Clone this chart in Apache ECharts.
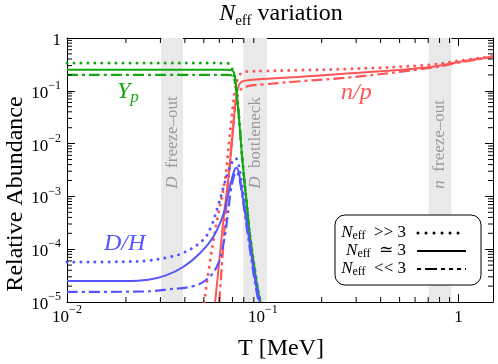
<!DOCTYPE html>
<html><head><meta charset="utf-8">
<script src="https://cdn.jsdelivr.net/npm/echarts@6/dist/echarts.min.js"></script>
<style>html,body{margin:0;padding:0;background:#fff}#c{width:498px;height:364px}</style>
</head><body><div id="c"></div>
<script>
// ---- data (T in MeV, relative abundance) ----
const ypDotted = [[0.01,0.335],[0.04,0.335],[0.064,0.334],[0.0667,0.33],[0.0685,0.30],[0.070,0.25],[0.0715,0.18],[0.073,0.11],[0.0745,0.055],[0.0765,0.019],[0.0786,0.0053],[0.0832,6.2e-4],[0.0863,1.7e-4],[0.0948,1.6e-5],[0.0975,1e-5]];
const ypSolid  = [[0.01,0.25],[0.04,0.25],[0.066,0.25],[0.0685,0.248],[0.0705,0.235],[0.0718,0.20],[0.0728,0.14],[0.0741,0.07],[0.0765,0.018],[0.0786,0.005],[0.0832,6e-4],[0.0863,1.6e-4],[0.0948,1.5e-5],[0.0975,1e-5]];
const ypDashDot= [[0.01,0.20],[0.04,0.20],[0.066,0.20],[0.0685,0.198],[0.0705,0.185],[0.072,0.15],[0.0732,0.11],[0.0745,0.06],[0.0765,0.019],[0.0786,0.0052],[0.0832,6e-4],[0.0863,1.6e-4],[0.0948,1.5e-5],[0.0975,1e-5]];

const npDotted = [[0.0502,1e-5],[0.0545,8e-5],[0.0585,3.6e-4],[0.0643,2.2e-3],[0.0675,0.012],[0.0698,0.038],[0.072,0.10],[0.0745,0.17],[0.0765,0.205],[0.080,0.225],[0.086,0.233],[0.10,0.237],[0.15,0.245],[0.28,0.26],[0.71,0.31],[1.0,0.37],[1.5,0.45]];
const npSolid  = [[0.0571,1e-5],[0.060,6e-5],[0.0629,3.5e-4],[0.0667,2.2e-3],[0.0695,0.010],[0.0715,0.035],[0.0735,0.085],[0.0755,0.128],[0.078,0.148],[0.082,0.156],[0.086,0.16],[0.10,0.167],[0.15,0.183],[0.28,0.215],[0.71,0.28],[1.0,0.35],[1.5,0.44]];
const npDashDot= [[0.060,1e-5],[0.0643,3.6e-4],[0.0675,3e-3],[0.0705,0.02],[0.073,0.06],[0.0755,0.093],[0.079,0.113],[0.083,0.121],[0.086,0.125],[0.10,0.132],[0.15,0.15],[0.28,0.18],[0.71,0.27],[1.0,0.34],[1.5,0.44]];

const dhDotted = [[0.01,5.7e-5],[0.02,5.8e-5],[0.026,6.1e-5],[0.032,6.9e-5],[0.0392,8.5e-5],[0.0496,1.5e-4],[0.0545,2.7e-4],[0.0594,7e-4],[0.063,1.5e-3],[0.0665,2.9e-3],[0.0703,4.7e-3],[0.0725,5.3e-3],[0.075,4.3e-3],[0.0795,1.1e-3],[0.0845,2.4e-4],[0.0895,5.5e-5],[0.094,1.8e-5],[0.0975,1e-5]];
const dhSolid  = [[0.01,2.5e-5],[0.02,2.5e-5],[0.026,2.65e-5],[0.032,3.2e-5],[0.0392,4.6e-5],[0.0479,8.5e-5],[0.0558,1.7e-4],[0.0628,4.5e-4],[0.067,1.2e-3],[0.0705,2.6e-3],[0.0731,3.5e-3],[0.0755,2.8e-3],[0.0795,8.5e-4],[0.0843,2e-4],[0.0893,4.6e-5],[0.0938,1.5e-5],[0.0965,1e-5]];
const dhDashDot= [[0.01,1.55e-5],[0.025,1.58e-5],[0.032,1.72e-5],[0.0442,2.0e-5],[0.0519,2.7e-5],[0.0585,4.8e-5],[0.0628,1.2e-4],[0.066,4e-4],[0.0685,1.2e-3],[0.071,2.3e-3],[0.0731,2.9e-3],[0.0755,2.4e-3],[0.0795,7.5e-4],[0.084,1.8e-4],[0.089,4.2e-5],[0.0935,1.4e-5],[0.0955,1e-5]];

// shaded temperature bands [Tlow, Thigh]
const bands = [[0.0303,0.0391],[0.0794,0.105],[0.703,0.92]];
const bandLabels = ['{i|D}  freeze–out','{i|D}  bottleneck','{i|n}  freeze–out'];

const xMin = 0.01, xMax = 1.5, yMin = 1e-5, yMax = 1;
const xMinorTicks = [], yMinorTicks = [];
for (let d = -2; d <= 0; d++) for (let m = 2; m <= 9; m++) { const v = m*Math.pow(10,d); if (v < xMax) xMinorTicks.push([v, yMin]); }
for (let d = -5; d <= -1; d++) for (let m = 2; m <= 9; m++) yMinorTicks.push([xMin, m*Math.pow(10,d)]);

// ---- styles ----
const FONT = "'Liberation Serif','DejaVu Serif',serif";
const GREEN = '#12a812', RED = '#ff5555', BLUE = '#5555ff';
const DOT = {type:[0.01,7], cap:'round', width:3};
const SOLID = {type:'solid', width:2};
const DASHDOT = {type:[11,4,3,4], width:2.2};

function logLabel(v){
  const e = Math.round(Math.log10(v));
  if (Math.abs(v - Math.pow(10,e)) / v > 1e-6) return '';
  if (e === 0) return '{b|1}';
  return '{b|10}{s|−' + (-e) + '}';
}
const labelRich = {
  b:{fontSize:17, fontFamily:FONT, color:'#000', lineHeight:22, verticalAlign:'bottom'},
  s:{fontSize:12, fontFamily:FONT, color:'#000', lineHeight:12, verticalAlign:'top'}
};

function lineSeries(data, color, ls, z){
  return {type:'line', data:data, xAxisIndex:0, yAxisIndex:0, symbol:'none', showSymbol:false,
    smooth:0.4, z:z, silent:true, animation:false,
    lineStyle:Object.assign({color:color}, ls)};
}

const axisCommon = {
  type:'log', logBase:10, splitLine:{show:false},
  axisLine:{show:true, onZero:false, lineStyle:{color:'#000', width:1}},
  axisTick:{show:true, inside:true, length:8, lineStyle:{color:'#000', width:1}},
};

const chart = echarts.init(document.getElementById('c'), null, {renderer:'canvas'});
const option = {
  animation:false,
  backgroundColor:'#fff',
  grid:{left:67, right:5, top:38, bottom:62, containLabel:false},
  xAxis:[
    Object.assign({}, axisCommon, {position:'bottom', min:xMin, max:xMax,
      axisLabel:{show:true, margin:2, formatter:logLabel, rich:labelRich, showMaxLabel:false}}),
    Object.assign({}, axisCommon, {position:'top', min:xMin, max:xMax, axisLabel:{show:false}})
  ],
  yAxis:[
    Object.assign({}, axisCommon, {position:'left', min:yMin, max:yMax,
      axisLabel:{show:true, margin:6, formatter:logLabel, rich:labelRich}}),
    Object.assign({}, axisCommon, {position:'right', min:yMin, max:yMax, axisLabel:{show:false}})
  ],
  series:[
    {type:'custom', xAxisIndex:0, yAxisIndex:0, z:1, silent:true, clip:false,
      data:bands.map((b,i)=>[b[0], b[1], i]),
      encode:{x:[0,1]},
      renderItem:function(params, api){
        const t1 = api.value(0), t2 = api.value(1), i = api.value(2);
        const p1 = api.coord([t1, yMax]), p2 = api.coord([t2, yMin]);
        const tm = Math.sqrt(t1*t2);
        const pl = api.coord([tm, 1.4e-3]);
        return {type:'group', children:[
          {type:'rect', shape:{x:p1[0], y:p1[1], width:p2[0]-p1[0], height:p2[1]-p1[1]}, style:{fill:'#e9e9e9'}},
          {type:'text', x:pl[0], y:pl[1], rotation:Math.PI/2,
            style:{text:bandLabels[i], fill:'#9a9a9a', fontSize:17, fontFamily:FONT,
              align:'left', verticalAlign:'middle',
              rich:{i:{fontStyle:'italic', fontSize:17, fontFamily:FONT, fill:'#9a9a9a'}}}}
        ]};
      }},
    lineSeries(npDotted, RED, DOT, 3),
    lineSeries(npSolid, RED, SOLID, 3),
    lineSeries(npDashDot, RED, DASHDOT, 3),
    lineSeries(ypDotted, GREEN, DOT, 4),
    lineSeries(ypSolid, GREEN, SOLID, 4),
    lineSeries(ypDashDot, GREEN, DASHDOT, 4),
    lineSeries(dhDotted, BLUE, DOT, 5),
    lineSeries(dhSolid, BLUE, SOLID, 5),
    lineSeries(dhDashDot, BLUE, DASHDOT, 5),
    {type:'custom', xAxisIndex:0, yAxisIndex:0, z:10, silent:true, clip:false, data:xMinorTicks,
      renderItem:function(params, api){
        const v = api.value(0);
        const pb = api.coord([v, yMin]), pt = api.coord([v, yMax]);
        return {type:'group', children:[
          {type:'line', shape:{x1:pb[0], y1:pb[1], x2:pb[0], y2:pb[1]-5}, style:{stroke:'#000', lineWidth:1}},
          {type:'line', shape:{x1:pt[0], y1:pt[1], x2:pt[0], y2:pt[1]+5}, style:{stroke:'#000', lineWidth:1}}
        ]};
      }},
    {type:'custom', xAxisIndex:0, yAxisIndex:0, z:10, silent:true, clip:false, data:yMinorTicks,
      renderItem:function(params, api){
        const v = api.value(1);
        const pl = api.coord([xMin, v]), pr = api.coord([xMax, v]);
        return {type:'group', children:[
          {type:'line', shape:{x1:pl[0], y1:pl[1], x2:pl[0]+5, y2:pl[1]}, style:{stroke:'#000', lineWidth:1}},
          {type:'line', shape:{x1:pr[0], y1:pr[1], x2:pr[0]-5, y2:pr[1]}, style:{stroke:'#000', lineWidth:1}}
        ]};
      }}
  ],
  graphic:[
    {type:'text', x:281, y:15, z:20, style:{text:'{n|N}{e|eff}{r| variation}', align:'center', verticalAlign:'middle',
      rich:{n:{fontSize:24, fontStyle:'italic', fontFamily:FONT, fill:'#000', lineHeight:27, verticalAlign:'top'},
            e:{fontSize:15, fontFamily:FONT, fill:'#000', lineHeight:15, verticalAlign:'bottom'},
            r:{fontSize:24, fontFamily:FONT, fill:'#000', lineHeight:27, verticalAlign:'top'}}}},
    {type:'text', x:16, y:194, rotation:Math.PI/2, z:20, style:{text:'Relative Abundance', fontSize:24, fontFamily:FONT, fill:'#000', align:'center', verticalAlign:'middle'}},
    {type:'text', x:281, y:349, z:20, style:{text:'T [MeV]', fontSize:24, fontFamily:FONT, fill:'#000', align:'center', verticalAlign:'middle'}},
    {type:'text', x:117, y:93, z:20, style:{text:'{i|Y}{s|p}', align:'left', verticalAlign:'middle',
      rich:{i:{fontSize:24, fontStyle:'italic', fontFamily:FONT, fill:GREEN, lineHeight:26, verticalAlign:'top'},
            s:{fontSize:17, fontStyle:'italic', fontFamily:FONT, fill:GREEN, lineHeight:16, verticalAlign:'bottom'}}}},
    {type:'text', x:341, y:93, z:20, style:{text:'n/p', fontSize:24, fontStyle:'italic', fontFamily:FONT, fill:RED, align:'left', verticalAlign:'middle'}},
    {type:'text', x:104, y:244, z:20, style:{text:'D/H', fontSize:24, fontStyle:'italic', fontFamily:FONT, fill:BLUE, align:'left', verticalAlign:'middle'}},
    {type:'rect', z:20, shape:{x:335, y:215, width:146, height:70, r:10}, style:{fill:'#fff', stroke:'#000', lineWidth:1}},
    {type:'text', x:406, y:233, z:21, style:{text:'{n|N}{e|eff}{t|  >> 3}', align:'right', verticalAlign:'middle', rich:{
      n:{fontSize:17, fontStyle:'italic', fontFamily:FONT, fill:'#000', lineHeight:18, verticalAlign:'top'},
      e:{fontSize:12, fontFamily:FONT, fill:'#000', lineHeight:11, verticalAlign:'bottom'},
      t:{fontSize:17, fontFamily:FONT, fill:'#000', lineHeight:18, verticalAlign:'top'}}}},
    {type:'text', x:406, y:251, z:21, style:{text:'{n|N}{e|eff}{t|  ≃ 3}', align:'right', verticalAlign:'middle', rich:{
      n:{fontSize:17, fontStyle:'italic', fontFamily:FONT, fill:'#000', lineHeight:18, verticalAlign:'top'},
      e:{fontSize:12, fontFamily:FONT, fill:'#000', lineHeight:11, verticalAlign:'bottom'},
      t:{fontSize:17, fontFamily:FONT, fill:'#000', lineHeight:18, verticalAlign:'top'}}}},
    {type:'text', x:406, y:269, z:21, style:{text:'{n|N}{e|eff}{t|  << 3}', align:'right', verticalAlign:'middle', rich:{
      n:{fontSize:17, fontStyle:'italic', fontFamily:FONT, fill:'#000', lineHeight:18, verticalAlign:'top'},
      e:{fontSize:12, fontFamily:FONT, fill:'#000', lineHeight:11, verticalAlign:'bottom'},
      t:{fontSize:17, fontFamily:FONT, fill:'#000', lineHeight:18, verticalAlign:'top'}}}},
    {type:'line', z:21, shape:{x1:418, y1:233, x2:466, y2:233}, style:{stroke:'#000', lineWidth:3, lineDash:[0.01,8], lineCap:'round'}},
    {type:'line', z:21, shape:{x1:417, y1:251, x2:466, y2:251}, style:{stroke:'#000', lineWidth:2}},
    {type:'line', z:21, shape:{x1:417, y1:269, x2:466, y2:269}, style:{stroke:'#000', lineWidth:2, lineDash:[4,4,12,4,4,4,4,4]}}
  ]
};
chart.setOption(option);
</script>
</body></html>
